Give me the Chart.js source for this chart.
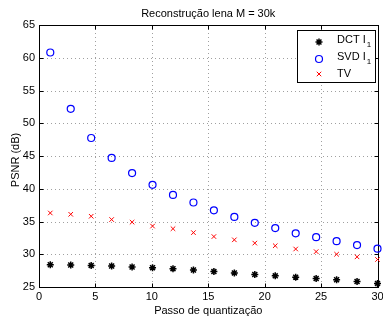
<!DOCTYPE html>
<html>
<head>
<meta charset="utf-8">
<script src="https://cdn.jsdelivr.net/npm/chart.js@4"></script>
<style>
html,body{margin:0;padding:0;background:#fff;}
canvas{display:block;}
</style>
</head>
<body>
<canvas id="c" width="383" height="320"></canvas>
<script>
const titleText = 'Reconstrução lena M = 30k';
const xTitle = 'Passo de quantização';
const yTitle = 'PSNR (dB)';
const xTicks = [0, 5, 10, 15, 20, 25, 30];
const yTicks = [25, 30, 35, 40, 45, 50, 55, 60, 65];
const steps = [1, 2.8125, 4.625, 6.4375, 8.25, 10.0625, 11.875, 13.6875, 15.5, 17.3125, 19.125, 20.9375, 22.75, 24.5625, 26.375, 28.1875, 30];
const dctL1 = [28.4, 28.35, 28.3, 28.2, 28.05, 27.95, 27.8, 27.6, 27.35, 27.15, 26.9, 26.7, 26.5, 26.3, 26.1, 25.85, 25.55];
const svdL1 = [60.8, 52.2, 47.75, 44.7, 42.4, 40.6, 39.05, 37.9, 36.7, 35.7, 34.8, 34.0, 33.2, 32.6, 32.0, 31.4, 30.85];
const tv = [36.3, 36.1, 35.8, 35.3, 34.9, 34.3, 33.9, 33.3, 32.7, 32.2, 31.7, 31.3, 30.8, 30.4, 30.0, 29.6, 29.2];
const legendNames = [['DCT I', '1'], ['SVD I', '1'], ['TV', '']];

const FONT = '"Liberation Sans", Arial, Helvetica, sans-serif';
const pts = (ys) => steps.map((x, i) => ({x: x, y: ys[i]}));

const framePlugin = {
  id: 'frame',
  beforeDatasetsDraw(chart) {
    const ctx = chart.ctx, a = chart.chartArea;
    const xs = chart.scales.x, ys = chart.scales.y;
    ctx.save();
    // dotted grid
    ctx.strokeStyle = '#a0a0a0';
    ctx.lineWidth = 1;
    ctx.setLineDash([1, 3]);
    xTicks.forEach(v => {
      if (v === xTicks[0] || v === xTicks[xTicks.length - 1]) return;
      const px = Math.round(xs.getPixelForValue(v)) + 0.5;
      ctx.beginPath(); ctx.moveTo(px, a.top); ctx.lineTo(px, a.bottom); ctx.stroke();
    });
    yTicks.forEach(v => {
      if (v === yTicks[0] || v === yTicks[yTicks.length - 1]) return;
      const py = Math.round(ys.getPixelForValue(v)) + 0.5;
      ctx.beginPath(); ctx.moveTo(a.left, py); ctx.lineTo(a.right, py); ctx.stroke();
    });
    ctx.setLineDash([]);
    // frame
    ctx.strokeStyle = '#000';
    ctx.lineWidth = 1;
    const L = Math.round(a.left) + 0.5, R = Math.round(a.right) + 0.5;
    const T = Math.round(a.top) + 0.5, B = Math.round(a.bottom) + 0.5;
    ctx.strokeRect(L, T, R - L, B - T);
    // inward ticks
    const tl = 4;
    ctx.beginPath();
    xTicks.forEach(v => {
      const px = Math.round(xs.getPixelForValue(v)) + 0.5;
      ctx.moveTo(px, B); ctx.lineTo(px, B - tl);
      ctx.moveTo(px, T); ctx.lineTo(px, T + tl);
    });
    yTicks.forEach(v => {
      const py = Math.round(ys.getPixelForValue(v)) + 0.5;
      ctx.moveTo(L, py); ctx.lineTo(L + tl, py);
      ctx.moveTo(R, py); ctx.lineTo(R - tl, py);
    });
    ctx.stroke();
    ctx.restore();
  },
  afterDraw(chart) {
    const ctx = chart.ctx, a = chart.chartArea;
    ctx.save();
    ctx.fillStyle = '#000';
    ctx.font = '11px ' + FONT;
    ctx.textAlign = 'center';
    ctx.textBaseline = 'middle';
    ctx.fillText(titleText, (a.left + a.right) / 2, 14);
    ctx.fillText(xTitle, (a.left + a.right) / 2, 311);
    ctx.save();
    ctx.translate(16, (a.top + a.bottom) / 2 + 4);
    ctx.rotate(-Math.PI / 2);
    ctx.fillText(yTitle, 0, 0);
    ctx.restore();

    // legend
    const bx = 297.5, by = 30.5, bw = 78, bh = 52;
    ctx.fillStyle = '#fff';
    ctx.fillRect(bx, by, bw, bh);
    ctx.strokeStyle = '#000';
    ctx.lineWidth = 1;
    ctx.strokeRect(bx, by, bw, bh);
    const rows = [40, 57, 74];
    const mx = 319;
    chart.data.datasets.forEach((ds, i) => {
      const my = rows[i] + (i === 2 ? 0 : 2);
      ctx.strokeStyle = ds.borderColor;
      ctx.lineWidth = ds.borderWidth;
      const r = ds.pointRadius;
      ctx.beginPath();
      if (ds.pointStyle === 'circle') {
        ctx.arc(mx, my, r, 0, Math.PI * 2);
      } else if (ds.pointStyle === 'crossRot') {
        ctx.moveTo(mx - r * 0.7, my - r * 0.7); ctx.lineTo(mx + r * 0.7, my + r * 0.7);
        ctx.moveTo(mx + r * 0.7, my - r * 0.7); ctx.lineTo(mx - r * 0.7, my + r * 0.7);
      } else {
        ctx.moveTo(mx - r, my); ctx.lineTo(mx + r, my);
        ctx.moveTo(mx, my - r); ctx.lineTo(mx, my + r);
        const d = r * 0.7;
        ctx.moveTo(mx - d, my - d); ctx.lineTo(mx + d, my + d);
        ctx.moveTo(mx + d, my - d); ctx.lineTo(mx - d, my + d);
      }
      ctx.stroke();
      ctx.fillStyle = '#000';
      ctx.textAlign = 'left';
      ctx.font = '11px ' + FONT;
      const [main, sub] = legendNames[i];
      ctx.fillText(main, 337, rows[i]);
      if (sub) {
        const w = ctx.measureText(main).width;
        ctx.font = '8px ' + FONT;
        ctx.fillText(sub, 337 + w + 1, rows[i] + 5);
      }
    });
    ctx.restore();
  }
};

new Chart(document.getElementById('c'), {
  type: 'scatter',
  data: {
    datasets: [
      {label: 'DCT I1', data: pts(dctL1), pointStyle: 'star', pointRadius: 3.5, borderColor: '#000000', backgroundColor: '#000000', borderWidth: 1.5, showLine: false, clip: false},
      {label: 'SVD I1', data: pts(svdL1), pointStyle: 'circle', pointRadius: 3.5, borderColor: '#0000ff', backgroundColor: 'rgba(0,0,0,0)', borderWidth: 1.2, showLine: false, clip: false},
      {label: 'TV', data: pts(tv), pointStyle: 'crossRot', pointRadius: 3.2, borderColor: '#ff0000', backgroundColor: '#ff0000', borderWidth: 1, showLine: false, clip: false}
    ]
  },
  options: {
    responsive: false,
    devicePixelRatio: 1,
    animation: false,
    events: [],
    layout: {padding: {top: 25, right: 4, left: 0, bottom: 0}},
    plugins: {legend: {display: false}, title: {display: false}, tooltip: {enabled: false}},
    scales: {
      x: {
        type: 'linear', min: 0, max: 30,
        afterBuildTicks: (s) => { s.ticks = xTicks.map(v => ({value: v})); },
        ticks: {font: {family: FONT, size: 11}, color: '#000', padding: 3, maxRotation: 0, autoSkip: false},
        grid: {display: false, drawTicks: false},
        border: {display: false},
        afterFit: (s) => { s.height = 33; s.paddingLeft = 0; s.paddingRight = 0; }
      },
      y: {
        type: 'linear', min: 25, max: 65,
        afterBuildTicks: (s) => { s.ticks = yTicks.map(v => ({value: v})); },
        ticks: {font: {family: FONT, size: 11}, color: '#000', padding: 4, autoSkip: false},
        grid: {display: false, drawTicks: false},
        border: {display: false},
        afterFit: (s) => { s.width = 39; s.paddingTop = 0; s.paddingBottom = 0; }
      }
    }
  },
  plugins: [framePlugin]
});
</script>
</body>
</html>
